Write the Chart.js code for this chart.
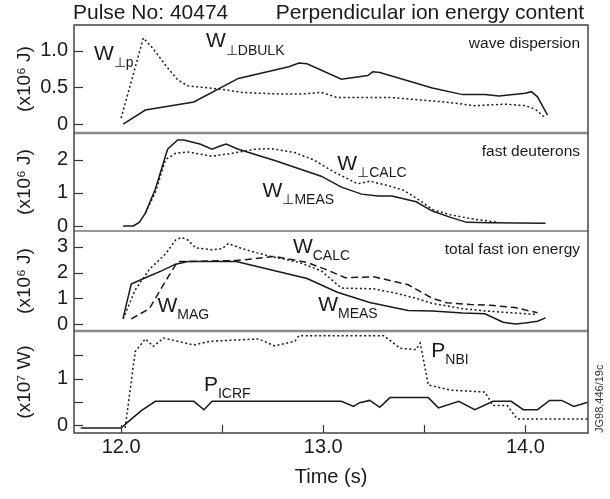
<!DOCTYPE html>
<html>
<head>
<meta charset="utf-8">
<title>Perpendicular ion energy content</title>
<script src="https://cdn.jsdelivr.net/npm/chart.js@4.4.1/dist/chart.umd.min.js"></script>
<style>
  html, body { margin: 0; padding: 0; background: #fff; }
  #wrap { width: 610px; height: 499px; }
</style>
</head>
<body>
<div id="wrap"><canvas id="chart"></canvas></div>
<script>
// Time axis (s)
const timeTicks = [12.0, 13.0, 14.0];
const timeMinorTicks = [12.5, 13.5];

// Panel 1: wave dispersion (x10^6 J), [time, value]
const wPerpP = [
  [12.00, 0.08], [12.11, 1.17], [12.16, 1.02], [12.22, 0.80], [12.28, 0.60],
  [12.33, 0.52], [12.40, 0.50], [12.50, 0.47], [12.60, 0.43], [12.76, 0.41],
  [12.90, 0.41], [12.99, 0.43], [13.07, 0.36], [13.34, 0.36], [13.60, 0.30],
  [13.75, 0.25], [13.90, 0.27], [14.00, 0.25], [14.05, 0.20], [14.10, 0.08]
];
const wPerpDBulk = [
  [12.01, 0.00], [12.12, 0.19], [12.36, 0.30], [12.58, 0.62], [12.83, 0.78],
  [12.88, 0.83], [12.92, 0.82], [13.09, 0.61], [13.22, 0.66], [13.245, 0.71],
  [13.28, 0.70], [13.54, 0.49], [13.69, 0.40], [13.80, 0.40], [13.87, 0.38],
  [14.00, 0.42], [14.03, 0.44], [14.06, 0.37], [14.11, 0.12]
];

// Panel 2: fast deuterons (x10^6 J)
const wPerpMeas = [
  [12.01, 0.00], [12.06, 0.00], [12.09, 0.11], [12.12, 0.39], [12.17, 1.12],
  [12.23, 2.31], [12.28, 2.59], [12.31, 2.59], [12.39, 2.47], [12.45, 2.31],
  [12.49, 2.41], [12.52, 2.47], [12.58, 2.31], [12.76, 1.97], [12.99, 1.50],
  [13.09, 1.17], [13.19, 0.96], [13.27, 0.90], [13.34, 0.90], [13.46, 0.73],
  [13.54, 0.45], [13.63, 0.26], [13.71, 0.11], [13.83, 0.10], [14.10, 0.08]
];
const wPerpCalc = [
  [12.12, 0.39], [12.17, 1.02], [12.22, 2.00], [12.27, 2.19], [12.33, 2.23],
  [12.45, 2.10], [12.55, 2.19], [12.66, 2.31], [12.74, 2.33], [12.86, 2.21],
  [12.95, 2.00], [13.05, 1.64], [13.17, 1.27], [13.23, 1.35], [13.32, 1.22],
  [13.40, 1.07], [13.48, 0.76], [13.54, 0.50], [13.63, 0.34], [13.73, 0.22],
  [13.87, 0.11]
];

// Panel 3: total fast ion energy (x10^6 J)
const wMeas = [
  [12.01, 0.23], [12.05, 1.56], [12.12, 1.80], [12.20, 2.07], [12.27, 2.33],
  [12.33, 2.43], [12.57, 2.43], [12.76, 2.07], [12.92, 1.77], [13.07, 1.24],
  [13.23, 0.84], [13.42, 0.53], [13.54, 0.51], [13.69, 0.43], [13.80, 0.40],
  [13.89, 0.07], [13.95, 0.00], [14.00, 0.04], [14.06, 0.11], [14.10, 0.24]
];
const wMag = [
  [12.01, 0.20], [12.07, 1.33], [12.14, 2.13], [12.22, 2.73], [12.27, 3.27],
  [12.30, 3.37], [12.33, 3.27], [12.37, 2.96], [12.45, 2.89], [12.50, 2.93],
  [12.53, 3.13], [12.60, 2.93], [12.72, 2.67], [12.88, 2.40], [12.99, 2.07],
  [13.09, 1.40], [13.25, 1.37], [13.36, 1.20], [13.46, 1.00], [13.54, 0.80],
  [13.69, 0.60], [13.80, 0.51], [13.93, 0.44], [14.06, 0.37]
];
const wCalc = [
  [12.05, 0.20], [12.14, 0.60], [12.22, 1.67], [12.28, 2.43], [12.57, 2.47],
  [12.76, 2.63], [12.92, 2.40], [13.03, 2.07], [13.11, 1.80], [13.25, 1.84],
  [13.42, 1.53], [13.54, 1.00], [13.61, 0.83], [13.73, 0.76], [13.83, 0.73],
  [13.95, 0.64], [14.06, 0.44]
];

// Panel 4: heating power (x10^7 W)
const pIcrf = [
  [11.80, -0.065], [12.00, -0.065], [12.04, 0.09], [12.10, 0.31], [12.17, 0.51],
  [12.36, 0.51], [12.41, 0.33], [12.45, 0.51], [13.09, 0.51], [13.15, 0.40],
  [13.18, 0.48], [13.23, 0.53], [13.28, 0.38], [13.33, 0.59], [13.52, 0.59],
  [13.57, 0.37], [13.67, 0.51], [13.75, 0.33], [13.84, 0.51], [13.93, 0.51],
  [13.99, 0.33], [14.06, 0.33], [14.12, 0.53], [14.18, 0.53], [14.24, 0.40],
  [14.31, 0.49]
];
const pNbi = [
  [12.02, -0.06], [12.07, 1.58], [12.12, 1.85], [12.16, 1.69], [12.21, 1.87],
  [12.36, 1.72], [12.44, 1.80], [12.68, 1.85], [12.76, 1.70], [12.86, 1.80],
  [12.88, 1.92], [13.30, 1.92], [13.38, 1.65], [13.46, 1.62], [13.48, 1.76],
  [13.52, 0.86], [13.63, 0.75], [13.80, 0.71], [13.84, 0.42], [13.91, 0.42],
  [13.96, 0.13], [14.31, 0.13]
];

// Tick values and labels for each panel
const waveTicks = [0, 0.5, 1.0];
const waveTickLabels = ['0', '0.5', '1.0'];
const deutTicks = [0, 1, 2];
const deutTickLabels = ['0', '1', '2'];
const totalTicks = [0, 1, 2, 3];
const totalTickLabels = ['0', '1', '2', '3'];
const powerTicks = [0, 1];
const powerTickLabels = ['0', '1'];
const powerMinorTicks = [0.5, 1.5];

const FONT = "'Liberation Sans', Arial, Helvetica, sans-serif";
const INK = '#1a1a1a';

function series(points, axis, dash) {
  return {
    data: points.map(([x, y]) => ({ x, y })),
    yAxisID: axis,
    borderColor: INK,
    borderWidth: 1.5,
    borderDash: dash || [],
    pointRadius: 0,
    tension: 0,
    fill: false
  };
}

function panelAxis(min, max, weight, ticks, labels, title) {
  return {
    type: 'linear',
    position: 'left',
    stack: 'panels',
    stackWeight: weight,
    min: min,
    max: max,
    grid: { display: false, drawTicks: false },
    border: { display: false },
    afterBuildTicks: axis => { axis.ticks = ticks.map(v => ({ value: v })); },
    afterFit: axis => { axis.width = 74; },
    ticks: {
      autoSkip: false,
      padding: 6,
      color: INK,
      font: { family: FONT, size: 20 },
      callback: v => labels[ticks.indexOf(v)]
    },
    title: {
      display: true,
      text: title,
      color: INK,
      font: { family: FONT, size: 19 },
      padding: { top: 13, bottom: 0 }
    }
  };
}

const dotted = [2, 2.5];
const dashed = [7, 4];

// Curve labels: main letter plus subscript, anchored in data units
const curveLabels = [
  { axis: 'yWave', t: 11.866, v: 0.95, main: 'W', sub: '\u22A5p' },
  { axis: 'yWave', t: 12.42, v: 1.12, main: 'W', sub: '\u22A5DBULK' },
  { axis: 'yDeut', t: 13.07, v: 1.85, main: 'W', sub: '\u22A5CALC' },
  { axis: 'yDeut', t: 12.70, v: 1.05, main: 'W', sub: '\u22A5MEAS' },
  { axis: 'yTotal', t: 12.85, v: 3.0, main: 'W', sub: 'CALC' },
  { axis: 'yTotal', t: 12.18, v: 0.70, main: 'W', sub: 'MAG' },
  { axis: 'yTotal', t: 12.975, v: 0.74, main: 'W', sub: 'MEAS' },
  { axis: 'yPower', t: 13.535, v: 1.59, main: 'P', sub: 'NBI' },
  { axis: 'yPower', t: 12.41, v: 0.86, main: 'P', sub: 'ICRF' }
];

const panelCaptions = [
  { axis: 'yWave', text: 'wave dispersion' },
  { axis: 'yDeut', text: 'fast deuterons' },
  { axis: 'yTotal', text: 'total fast ion energy' }
];

const framePlugin = {
  id: 'panelFrame',
  afterDraw(chart) {
    const { ctx, chartArea: a, scales } = chart;
    ctx.save();

    // inward tick marks on the left edge of each panel
    ctx.strokeStyle = '#333';
    ctx.lineWidth = 1.2;
    const yTickSets = [
      ['yWave', waveTicks], ['yDeut', deutTicks], ['yTotal', totalTicks],
      ['yPower', powerTicks.concat(powerMinorTicks)]
    ];
    yTickSets.forEach(([id, vals]) => {
      vals.forEach(v => {
        const y = Math.round(scales[id].getPixelForValue(v)) + 0.5;
        ctx.beginPath();
        ctx.moveTo(a.left, y);
        ctx.lineTo(a.left + 9, y);
        ctx.stroke();
      });
    });
    // time ticks along the bottom
    timeTicks.concat(timeMinorTicks).forEach(t => {
      const x = Math.round(scales.x.getPixelForValue(t)) + 0.5;
      ctx.beginPath();
      ctx.moveTo(x, a.bottom);
      ctx.lineTo(x, a.bottom - 8);
      ctx.stroke();
    });

    // panel separators
    const seps = [
      [scales.yWave.bottom, '#8a8a8a', 2.5],
      [scales.yDeut.bottom, '#333', 1.2],
      [scales.yTotal.bottom, '#8a8a8a', 2.5]
    ];
    seps.forEach(([y, col, w]) => {
      ctx.strokeStyle = col;
      ctx.lineWidth = w;
      ctx.beginPath();
      ctx.moveTo(a.left, y);
      ctx.lineTo(a.right, y);
      ctx.stroke();
    });

    // outer frame
    ctx.strokeStyle = '#444';
    ctx.lineWidth = 1.5;
    ctx.strokeRect(a.left, a.top, a.right - a.left, a.bottom - a.top);

    // panel captions
    ctx.fillStyle = INK;
    ctx.font = `15.5px ${FONT}`;
    ctx.textAlign = 'right';
    ctx.textBaseline = 'middle';
    panelCaptions.forEach(c => {
      ctx.fillText(c.text, a.right - 8, scales[c.axis].top + 19);
    });

    // curve labels with subscripts
    ctx.textAlign = 'left';
    curveLabels.forEach(l => {
      const x = scales.x.getPixelForValue(l.t);
      const y = scales[l.axis].getPixelForValue(l.v);
      ctx.font = `21px ${FONT}`;
      ctx.fillText(l.main, x, y);
      const w = ctx.measureText(l.main).width;
      ctx.font = `14px ${FONT}`;
      ctx.fillText(l.sub, x + w, y + 9);
    });

    // heading
    ctx.font = `21px ${FONT}`;
    ctx.textBaseline = 'alphabetic';
    ctx.textAlign = 'left';
    ctx.fillText('Pulse No: 40474', a.left - 1, 19);
    ctx.textAlign = 'right';
    ctx.fillText('Perpendicular ion energy content', a.right - 4, 19);

    // figure reference, vertical on the right
    ctx.font = `11px ${FONT}`;
    ctx.fillStyle = '#333';
    ctx.translate(a.right + 12, a.bottom);
    ctx.rotate(-Math.PI / 2);
    ctx.textAlign = 'left';
    ctx.textBaseline = 'middle';
    ctx.fillText('JG98.446/19c', 0, 0);

    ctx.restore();
  }
};

new Chart(document.getElementById('chart'), {
  type: 'line',
  data: {
    datasets: [
      series(wPerpDBulk, 'yWave'),
      series(wPerpP, 'yWave', dotted),
      series(wPerpMeas, 'yDeut'),
      series(wPerpCalc, 'yDeut', dotted),
      series(wMeas, 'yTotal'),
      series(wMag, 'yTotal', dotted),
      series(wCalc, 'yTotal', dashed),
      series(pIcrf, 'yPower'),
      series(pNbi, 'yPower', dotted)
    ]
  },
  options: {
    responsive: true,
    maintainAspectRatio: false,
    animation: false,
    layout: { padding: { top: 25, right: 22, left: 0, bottom: 0 } },
    plugins: {
      legend: { display: false },
      tooltip: { enabled: false }
    },
    scales: {
      x: {
        type: 'linear',
        min: 11.767,
        max: 14.31,
        grid: { display: false, drawTicks: false },
        border: { display: false },
        afterBuildTicks: axis => { axis.ticks = timeTicks.map(v => ({ value: v })); },
        afterFit: axis => { axis.height = 66; },
        ticks: {
          autoSkip: false,
          maxRotation: 0,
          padding: 2,
          color: INK,
          font: { family: FONT, size: 20 },
          callback: v => v.toFixed(1)
        },
        title: {
          display: true,
          text: 'Time (s)',
          color: INK,
          font: { family: FONT, size: 20 },
          padding: { top: 0, bottom: 10 }
        }
      },
      // stacked panels, listed bottom to top
      yPower: panelAxis(-0.17, 2.02, 102, powerTicks, powerTickLabels, '(x10\u2077 W)'),
      yTotal: panelAxis(-0.27, 3.62, 100, totalTicks, totalTickLabels, '(x10\u2076 J)'),
      yDeut: panelAxis(-0.15, 2.8, 98, deutTicks, deutTickLabels, '(x10\u2076 J)'),
      yWave: panelAxis(-0.122, 1.347, 108, waveTicks, waveTickLabels, '(x10\u2076 J)')
    }
  },
  plugins: [framePlugin]
});
</script>
</body>
</html>
